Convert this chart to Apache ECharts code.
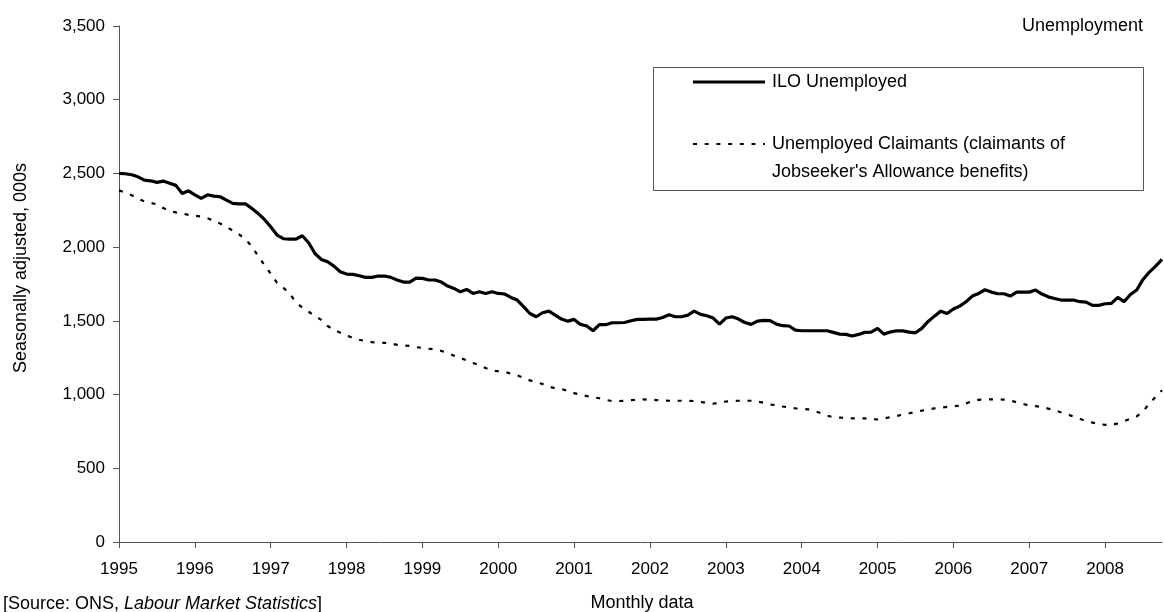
<!DOCTYPE html>
<html>
<head>
<meta charset="utf-8">
<title>Unemployment</title>
<script src="https://cdn.jsdelivr.net/npm/echarts@6/dist/echarts.min.js"></script>
<style>
  html, body { margin: 0; padding: 0; background: #fff; }
  #chart { width: 1164px; height: 612px; }
</style>
</head>
<body>
<div id="chart"></div>
<script>
// Years shown on the time axis (one label per January)
const years = [1995, 1996, 1997, 1998, 1999, 2000, 2001, 2002, 2003, 2004, 2005, 2006, 2007, 2008];
const lastMonth = 10; // series run to October 2008

// Y axis ticks (thousands)
const yTicks = [0, 500, 1000, 1500, 2000, 2500, 3000, 3500];

// ILO unemployed, seasonally adjusted, thousands (Jan 1995 – Oct 2008)
const iloUnemployed = [
  2500, 2498, 2491, 2477, 2455, 2450, 2439, 2448, 2434, 2419, 2364, 2382,
  2355, 2330, 2355, 2346, 2342, 2319, 2297, 2294, 2294, 2263, 2229, 2188,
  2138, 2082, 2057, 2055, 2055, 2077, 2030, 1957, 1917, 1901, 1871, 1833,
  1817, 1815, 1806, 1795, 1795, 1804, 1804, 1795, 1777, 1763, 1763, 1790,
  1788, 1777, 1777, 1763, 1736, 1720, 1697, 1713, 1686, 1697, 1686, 1697,
  1686, 1682, 1659, 1641, 1596, 1550, 1528, 1555, 1566, 1539, 1512, 1498,
  1510, 1476, 1465, 1433, 1474, 1474, 1487, 1487, 1489, 1501, 1510, 1510,
  1512, 1512, 1523, 1541, 1528, 1528, 1539, 1566, 1544, 1535, 1519, 1478,
  1519, 1528, 1512, 1489, 1476, 1498, 1503, 1501, 1478, 1467, 1465, 1437,
  1433, 1433, 1433, 1433, 1433, 1422, 1410, 1408, 1397, 1408, 1422, 1424,
  1449, 1410, 1424, 1433, 1432, 1424, 1419, 1449, 1496, 1532, 1566, 1550,
  1580, 1600, 1630, 1668, 1686, 1711, 1695, 1684, 1684, 1668, 1695, 1695,
  1695, 1709, 1682, 1663, 1652, 1641, 1641, 1641, 1630, 1627, 1605, 1605,
  1616, 1618, 1659, 1630, 1679, 1709, 1781, 1831, 1871, 1917
];

// Claimant count (Jobseeker's Allowance), seasonally adjusted, thousands
const claimants = [
  2385, 2370, 2352, 2330, 2310, 2300, 2290, 2265, 2245, 2236, 2228, 2219,
  2213, 2208, 2196, 2180, 2160, 2138, 2112, 2086, 2055, 2005, 1940, 1880,
  1820, 1758, 1725, 1685, 1625, 1590, 1562, 1533, 1507, 1465, 1440, 1420,
  1400, 1385, 1372, 1363, 1356, 1352, 1351, 1346, 1337, 1332, 1330, 1322,
  1316, 1311, 1306, 1296, 1282, 1264, 1248, 1232, 1215, 1200, 1180, 1164,
  1158, 1154, 1142, 1130, 1113, 1096, 1084, 1072, 1054, 1043, 1038, 1025,
  1010, 1000, 990, 982, 975, 964, 956, 956, 958, 962, 965, 967,
  965, 963, 961, 958, 958, 958, 958, 956, 950, 943, 938, 945,
  953, 956, 958, 958, 958, 952, 944, 933, 926, 919, 913, 907,
  903, 900, 888, 875, 857, 846, 844, 842, 839, 838, 838, 835,
  831, 838, 847, 855, 864, 873, 882, 891, 899, 906, 912, 916,
  920, 925, 940, 956, 964, 967, 967, 967, 966, 960, 948, 937,
  925, 921, 917, 905, 895, 880, 866, 851, 836, 820, 810, 800,
  795, 793, 805, 820, 836, 852, 885, 940, 985, 1030
];

// Monthly category labels "YYYY-MM"
const months = [];
years.forEach(function (y) {
  for (let m = 1; m <= 12; m++) {
    if (y === years[years.length - 1] && m > lastMonth) break;
    months.push(y + '-' + (m < 10 ? '0' + m : m));
  }
});

const FONT = '"Liberation Sans", Arial, Helvetica, sans-serif';
const solidStyle = { color: '#000', width: 3.2, type: 'solid' };
const dotStyle = { color: '#000', width: 2.2, type: [4, 7.7] };

const chart = echarts.init(document.getElementById('chart'), null, { renderer: 'canvas' });

chart.setOption({
  animation: false,
  backgroundColor: '#fff',
  grid: { left: 119, right: 2, top: 26, bottom: 70, containLabel: false },
  xAxis: {
    type: 'category',
    data: months,
    boundaryGap: false,
    axisLine: { lineStyle: { color: '#555', width: 1 } },
    axisTick: { show: true, interval: 11, length: 6, lineStyle: { color: '#555' } },
    axisLabel: {
      interval: 11,
      margin: 19,
      color: '#000',
      fontFamily: FONT,
      fontSize: 17,
      formatter: function (v) { return v.slice(0, 4); }
    },
    splitLine: { show: false }
  },
  yAxis: {
    type: 'value',
    min: yTicks[0],
    max: yTicks[yTicks.length - 1],
    interval: yTicks[1] - yTicks[0],
    axisLine: { show: true, lineStyle: { color: '#555', width: 1 } },
    axisTick: { show: true, length: 6, lineStyle: { color: '#555' } },
    axisLabel: {
      margin: 14,
      color: '#000',
      fontFamily: FONT,
      fontSize: 17,
      formatter: function (v) { return v.toLocaleString('en-GB'); }
    },
    splitLine: { show: false }
  },
  series: [
    {
      name: 'ILO Unemployed',
      type: 'line',
      data: iloUnemployed,
      symbol: 'none',
      lineStyle: solidStyle,
      z: 3
    },
    {
      name: "Unemployed Claimants (claimants of Jobseeker's Allowance benefits)",
      type: 'line',
      data: claimants,
      symbol: 'none',
      lineStyle: dotStyle,
      z: 2
    }
  ],
  graphic: [
    // chart title
    {
      type: 'text', right: 21, top: 17,
      style: { text: 'Unemployment', font: '18px ' + FONT, fill: '#000' }
    },
    // y axis title
    {
      type: 'text', x: 21, y: 268, rotation: Math.PI / 2,
      style: {
        text: 'Seasonally adjusted, 000s', font: '18px ' + FONT, fill: '#000',
        align: 'center', verticalAlign: 'middle'
      }
    },
    // x axis title
    {
      type: 'text', x: 642, y: 603,
      style: {
        text: 'Monthly data', font: '18px ' + FONT, fill: '#000',
        align: 'center', verticalAlign: 'middle'
      }
    },
    // source note
    {
      type: 'text', x: 3, y: 604,
      style: {
        text: '{n|[Source: ONS, }{i|Labour Market Statistics}{n|]}',
        verticalAlign: 'middle',
        rich: {
          n: { font: '18px ' + FONT, fill: '#000' },
          i: { font: 'italic 18px ' + FONT, fill: '#000' }
        }
      }
    },
    // legend box
    {
      type: 'rect',
      shape: { x: 653.5, y: 67.5, width: 490, height: 123 },
      style: { fill: '#fff', stroke: '#555', lineWidth: 1 },
      z: 10
    },
    {
      type: 'line',
      shape: { x1: 693, y1: 82, x2: 765, y2: 82 },
      style: { stroke: '#000', lineWidth: solidStyle.width },
      z: 11
    },
    {
      type: 'text', x: 772, y: 82,
      style: { text: 'ILO Unemployed', font: '18px ' + FONT, fill: '#000', verticalAlign: 'middle' },
      z: 11
    },
    {
      type: 'line',
      shape: { x1: 693, y1: 144, x2: 765, y2: 144 },
      style: { stroke: '#000', lineWidth: dotStyle.width, lineDash: dotStyle.type },
      z: 11
    },
    {
      type: 'text', x: 772, y: 130,
      style: {
        text: "Unemployed Claimants (claimants of\nJobseeker's Allowance benefits)",
        font: '18px ' + FONT, fill: '#000', lineHeight: 28, verticalAlign: 'top'
      },
      z: 11
    }
  ]
});
</script>
</body>
</html>
